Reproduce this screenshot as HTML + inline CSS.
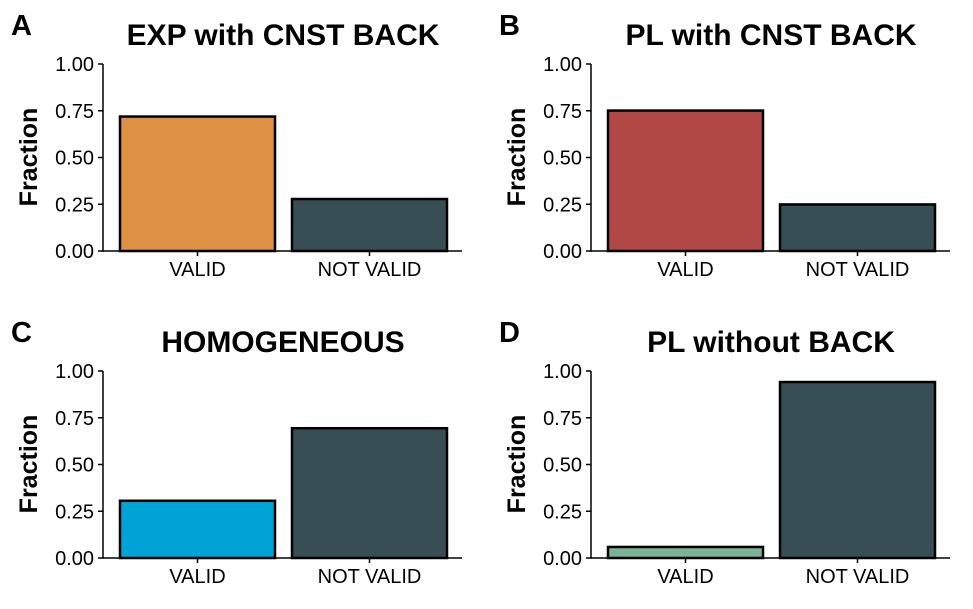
<!DOCTYPE html>
<html><head><meta charset="utf-8"><style>
body{margin:0;background:#fff}
svg{display:block;font-family:"Liberation Sans",Arial,sans-serif}
</style></head><body>
<svg id="c" width="973" height="609" viewBox="0 0 973 609"></svg>
<script>
const categories=["VALID","NOT VALID"];
const titles=["EXP with CNST BACK","PL with CNST BACK","HOMOGENEOUS","PL without BACK"];
const letters=["A","B","C","D"];
const validValues=[0.719,0.751,0.306,0.059];
const notValidValues=[0.278,0.249,0.694,0.941];
const validColors=["#DE9045","#B24846","#00A3D6","#7AB397"];
const notColor="#374E55";
const tickLabels=["0.00","0.25","0.50","0.75","1.00"];
const tickValues=[0,0.25,0.5,0.75,1];
const NS="http://www.w3.org/2000/svg";
const svg=document.getElementById('c');
function mk(tag,attrs,parent){const e=document.createElementNS(NS,tag);for(const k in attrs)e.setAttribute(k,attrs[k]);(parent||svg).appendChild(e);return e;}
const offs=[[0,0],[488,0],[0,307],[488,307]];
for(let p=0;p<4;p++){
  const ox=offs[p][0],oy=offs[p][1];
  const g=mk('g',{});
  
  
  const x0=103+ox,x1=462+ox,yTop=64+oy,yBot=251+oy;
  const y=v=>yBot-v*(yBot-yTop);
  const bandStart=[120,292],bw=155;
  const xc=i=>ox+bandStart[i];
  const L=mk('text',{x:11+ox,y:35+oy,'font-size':29,'font-weight':'bold'},g);L.textContent=letters[p];
  
  const T=mk('text',{x:283+ox,y:45+oy,'font-size':30,'font-weight':'bold','text-anchor':'middle'},g);T.textContent=titles[p];
  
  const YT=mk('text',{transform:`translate(${37+ox},${157+oy}) rotate(-90)`,'font-size':25,'font-weight':'bold','text-anchor':'middle'},g);YT.textContent="Fraction";
  
  const vals=[validValues[p],notValidValues[p]],cols=[validColors[p],notColor];
  for(let i=0;i<2;i++){
    const r=mk('rect',{x:xc(i),y:y(vals[i]),width:bw,height:yBot-y(vals[i]),fill:cols[i],stroke:'#000','stroke-width':2.5},g);
    
    
    mk('line',{x1:xc(i)+bw/2,x2:xc(i)+bw/2,y1:yBot,y2:yBot+5,stroke:'#000','stroke-width':1.5},g);
    const t=mk('text',{x:xc(i)+bw/2,y:yBot+25,'font-size':20,'text-anchor':'middle'},g);t.textContent=categories[i];
    
  }
  tickValues.forEach((v,k)=>{
    mk('line',{x1:x0-5,x2:x0,y1:y(v),y2:y(v),stroke:'#000','stroke-width':1.5},g);
    const t=mk('text',{x:x0-9,y:y(v)+7,'font-size':20,'text-anchor':'end'},g);t.textContent=tickLabels[k];
    
  });
  const ya=mk('line',{x1:x0,x2:x0,y1:yTop,y2:yBot+0.75,stroke:'#000','stroke-width':1.5},g);
  
  const xa=mk('line',{x1:x0,x2:x1,y1:yBot,y2:yBot,stroke:'#000','stroke-width':1.5},g);
  
}
</script>
</body></html>
